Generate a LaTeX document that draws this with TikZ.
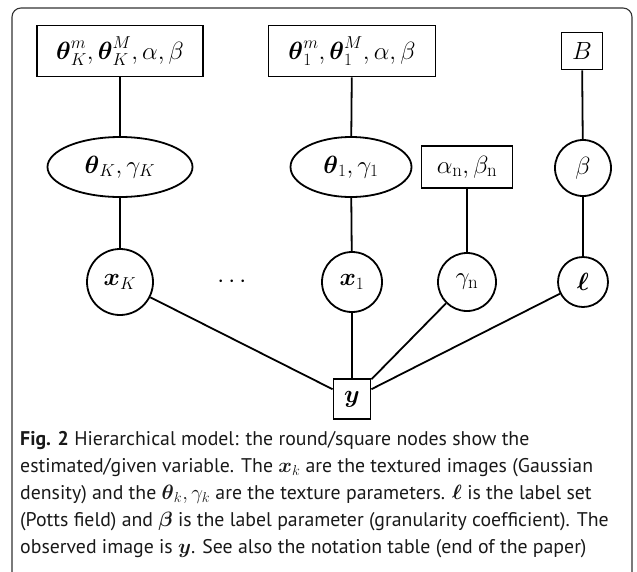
\documentclass[tikz,border=0pt]{standalone}
\usepackage{amsmath}
\usepackage{fontspec}
\newfontfamily\capfont{PT Sans}
\usetikzlibrary{shapes.geometric}

\tikzset{
  x=1pt, y=-1pt,
  every node/.style={font=\fontsize{27}{32}\selectfont, inner sep=0pt},
  given/.style={draw, line width=1.8pt, rectangle, minimum height=#1},
  given/.default=51pt,
  estim/.style={draw, line width=1.8pt, circle},
  oval/.style={draw, line width=1.8pt, ellipse},
  link/.style={line width=1.8pt},
  frame/.style={draw=black!80, line width=1.1pt, rounded corners=9pt},
  captiontext/.style={font=\capfont\fontsize{19.8}{27}\selectfont, text=black!90,
    anchor=north west, align=left, inner sep=0pt}
}

\begin{document}
\begin{tikzpicture}
  \useasboundingbox (0,0) rectangle (637,571);
  \clip (0,0) rectangle (637,571);
  \path[frame] (12,8) rectangle (632,600);

  % prior hyper-parameters (given)
  \node[given, minimum width=166pt] (pK) at (120,51) {$\boldsymbol{\theta}_K^m,\boldsymbol{\theta}_K^M,\alpha,\beta$};
  \node[given, minimum width=167pt] (p1) at (352,51) {$\boldsymbol{\theta}_1^m,\boldsymbol{\theta}_1^M,\alpha,\beta$};
  \node[given=37pt, minimum width=41pt] (pB) at (582,51) {$B$};

  % texture parameters
  \node[oval, minimum width=145pt, minimum height=60pt] (tK) at (120,167) {$\boldsymbol{\theta}_K,\gamma_K$};
  \node[oval, minimum width=121pt, minimum height=60pt] (t1) at (351,167) {$\boldsymbol{\theta}_1,\gamma_1$};
  \node[given=42pt, minimum width=91pt] (ab) at (467,167) {$\alpha_{\mathrm{n}},\beta_{\mathrm{n}}$};
  \node[estim, minimum size=56pt] (bt) at (583,168) {$\beta$};

  % textured images, noise, labels
  \node[estim, minimum size=66pt] (xK) at (120,282) {$\boldsymbol{x}_K$};
  \node (dots) at (234,282) {$\cdots$};
  \node[estim, minimum size=60pt] (x1) at (352,282) {$\boldsymbol{x}_1$};
  \node[estim, minimum size=58pt] (gn) at (467,282) {$\gamma_{\mathrm{n}}$};
  \node[estim, minimum size=50pt] (l) at (583,282) {$\boldsymbol{\ell}$};

  % observation
  \node[given=40pt, minimum width=37pt] (y) at (352,399) {$\boldsymbol{y}$};

  \draw[link] (pK) -- (tK) -- (xK);
  \draw[link] (p1) -- (t1) -- (x1);
  \draw[link] (ab) -- (gn);
  \draw[link] (pB) -- (bt) -- (l);
  \draw[link] (xK) -- (y);
  \draw[link] (x1) -- (y);
  \draw[link] (gn) -- (y);
  \draw[link] (l) -- (y);

  \node[captiontext] (cap) at (20,431) {%
    \textbf{Fig. 2} Hierarchical model: the round/square nodes show the\\
    estimated/given variable. The $\boldsymbol{x}_k$ are the textured images (Gaussian\\
    density) and the $\boldsymbol{\theta}_k,\gamma_k$ are the texture parameters. $\boldsymbol{\ell}$ is the label set\\
    (Potts field) and $\boldsymbol{\beta}$ is the label parameter (granularity coefficient). The\\
    observed image is $\boldsymbol{y}$. See also the notation table (end of the paper)};
\end{tikzpicture}
\end{document}
